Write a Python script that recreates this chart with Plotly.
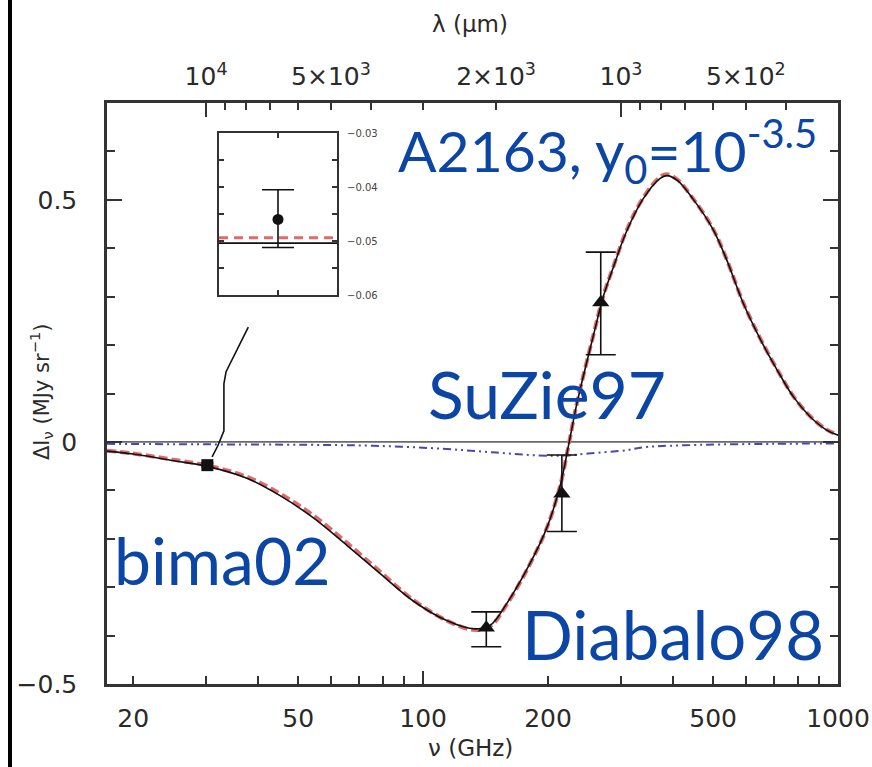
import numpy as np
import plotly.graph_objects as go

C_UM_GHZ = 299792.458  # lambda[um] * nu[GHz]

# ---------------- data ----------------
freq_ghz = [17.3, 20, 26, 30, 37.6, 45, 54, 65.6, 78.8, 94.5, 114, 132, 145, 159, 181, 199,
            214, 225, 235, 257, 272, 288, 309, 339, 372, 387, 410, 447, 499, 538, 590, 650,
            713, 781, 857, 937, 1000]
sz_model = [-0.019, -0.025, -0.041, -0.050, -0.075, -0.110, -0.155, -0.214, -0.272, -0.328,
            -0.369, -0.386, -0.379, -0.334, -0.251, -0.176, -0.090, 0.0, 0.081, 0.218, 0.301,
            0.363, 0.434, 0.502, 0.544, 0.550, 0.540, 0.502, 0.440, 0.378, 0.288, 0.212,
            0.149, 0.093, 0.052, 0.025, 0.014]
sz_model_alt = [-0.018, -0.024, -0.039, -0.048, -0.072, -0.106, -0.150, -0.209, -0.268, -0.326,
                -0.369, -0.388, -0.381, -0.336, -0.252, -0.176, -0.090, 0.0, 0.082, 0.219, 0.302,
                0.364, 0.436, 0.504, 0.547, 0.553, 0.542, 0.503, 0.441, 0.379, 0.289, 0.213,
                0.150, 0.094, 0.053, 0.026, 0.015]
ksz_freq = [17.3, 30, 53, 76, 111, 150, 190, 220, 250, 310, 340, 470, 700, 1000]
ksz_vals = [-0.004, -0.005, -0.006, -0.008, -0.014, -0.022, -0.028, -0.028, -0.024, -0.017,
            -0.011, -0.006, -0.004, -0.003]

bima_f = [30.2]
bima_v = [-0.048]
bima_err = [0.004]

tri_f = [142, 216, 268]
tri_v = [-0.384, -0.107, 0.288]
tri_err_up = [0.033, 0.080, 0.104]
tri_err_dn = [0.039, 0.078, 0.108]

inset_pt_v = [-0.046]
inset_err_up = [0.0055]
inset_err_dn = [0.0052]
inset_model = -0.0504
inset_model_alt = -0.0494

connector_f = [37.9, 33.5, 33.1, 33.1, 32.0, 31.0]
connector_v = [0.237, 0.145, 0.120, 0.023, -0.008, -0.031]

x_ticks = [20, 50, 100, 200, 500, 1000]
x_minor = [30, 40, 60, 70, 80, 90, 300, 400, 600, 700, 800, 900]
lam_ticks = [1e4, 5e3, 2e3, 1e3, 5e2]
lam_text = ["10<sup>4</sup>", "5×10<sup>3</sup>", "2×10<sup>3</sup>", "10<sup>3</sup>", "5×10<sup>2</sup>"]
lam_major = [1e4, 1e3]
lam_minor = [9000, 8000, 7000, 6000, 4000, 3000, 900, 800, 700, 600, 400, 300]
y_ticks = [-0.5, 0, 0.5]
y_text = ["−0.5", "0", "0.5"]
y_minor = [-0.4, -0.3, -0.2, -0.1, 0.1, 0.2, 0.3, 0.4, 0.6]
inset_ticks = [-0.06, -0.05, -0.04, -0.03]
inset_text = ["−0.06", "−0.05", "−0.04", "−0.03"]

# ---------------- layout geometry ----------------
W, H = 872, 767
L, R, T, B = 107, 838, 103, 684


def px(xp):
    return (xp - L) / (R - L)


def py(yp):
    return (B - yp) / (B - T)


XR = [np.log10(17.3), 3]
TICKC = "#333333"
TFONT = dict(family="DejaVu Sans", size=25, color="#2a2a2a")

fig = go.Figure()

# zero line
fig.add_shape(type="line", xref="paper", yref="y", x0=0, x1=1, y0=0, y1=0,
              line=dict(color="#6a6a6a", width=1.6), layer="below")

fig.add_trace(go.Scatter(x=ksz_freq, y=ksz_vals, mode="lines", line_shape="spline",
                         line=dict(color="#4a4aa6", width=2, dash="8px,4px,2px,4px,2px,4px"),
                         showlegend=False, hoverinfo="skip"))
fig.add_trace(go.Scatter(x=freq_ghz, y=sz_model_alt, mode="lines", line_shape="spline",
                         line=dict(color="#e06a6a", width=4, dash="9px,4px"),
                         showlegend=False, hoverinfo="skip"))
fig.add_trace(go.Scatter(x=freq_ghz, y=sz_model, mode="lines", line_shape="spline",
                         line=dict(color="#111111", width=1.6),
                         showlegend=False, hoverinfo="skip"))
fig.add_trace(go.Scatter(x=connector_f, y=connector_v, mode="lines",
                         line=dict(color="#111111", width=1.6),
                         showlegend=False, hoverinfo="skip"))
fig.add_trace(go.Scatter(x=bima_f, y=bima_v, mode="markers",
                         marker=dict(symbol="square", size=12, color="#111111"),
                         error_y=dict(type="data", array=bima_err, color="#111111", thickness=1.5, width=6),
                         showlegend=False, hoverinfo="skip"))
fig.add_trace(go.Scatter(x=tri_f, y=tri_v, mode="markers",
                         marker=dict(symbol="triangle-up", size=15, color="#111111"),
                         error_y=dict(type="data", symmetric=False, array=tri_err_up,
                                      arrayminus=tri_err_dn, color="#111111", thickness=1.6, width=15),
                         showlegend=False, hoverinfo="skip"))

# dummy traces so overlay axes render
for ax in ["x2", "x3", "x4"]:
    fig.add_trace(go.Scatter(x=[100], y=[0], xaxis=ax, yaxis="y", mode="markers",
                             marker=dict(opacity=0), showlegend=False, hoverinfo="skip"))

# inset
fig.add_trace(go.Scatter(x=[0, 2], y=[inset_model, inset_model], xaxis="x5", yaxis="y5", mode="lines",
                         line=dict(color="#111111", width=1.8), showlegend=False, hoverinfo="skip"))
fig.add_trace(go.Scatter(x=[0, 2], y=[inset_model_alt, inset_model_alt], xaxis="x5", yaxis="y5",
                         mode="lines", line=dict(color="#e06a6a", width=3, dash="9px,6px"),
                         showlegend=False, hoverinfo="skip"))
fig.add_trace(go.Scatter(x=[1], y=inset_pt_v, xaxis="x5", yaxis="y5", mode="markers",
                         marker=dict(symbol="circle", size=11, color="#111111"),
                         error_y=dict(type="data", symmetric=False, array=inset_err_up,
                                      arrayminus=inset_err_dn, color="#111111", thickness=1.6, width=16),
                         showlegend=False, hoverinfo="skip"))

lam_f = [C_UM_GHZ / l for l in lam_ticks]
lam_major_f = [C_UM_GHZ / l for l in lam_major]
lam_minor_f = [C_UM_GHZ / l for l in lam_minor]

fig.update_layout(
    width=W, height=H,
    margin=dict(l=L, r=W - R, t=T, b=H - B, autoexpand=False),
    paper_bgcolor="white", plot_bgcolor="white",
    showlegend=False,
    xaxis=dict(type="log", range=XR, tickvals=x_ticks, ticktext=[str(v) for v in x_ticks],
               ticks="inside", ticklen=8, tickwidth=2, tickcolor=TICKC,
               minor=dict(tickvals=x_minor, ticks="inside", ticklen=8, tickwidth=2, tickcolor=TICKC),
               showline=True, linecolor=TICKC, linewidth=2.5, mirror=True, automargin=False,
               showgrid=False, zeroline=False, tickfont=TFONT, ticklabelstandoff=10),
    xaxis2=dict(type="log", range=XR, overlaying="x", side="top", anchor="y",
                tickvals=lam_f, ticktext=lam_text, automargin=False,
                ticks="inside", ticklen=7, tickwidth=2, tickcolor=TICKC,
                minor=dict(tickvals=lam_minor_f, ticks="inside", ticklen=7, tickwidth=2, tickcolor=TICKC),
                showline=False, showgrid=False, zeroline=False, tickfont=TFONT, ticklabelstandoff=12),
    xaxis3=dict(type="log", range=XR, overlaying="x", side="top", anchor="y",
                tickvals=lam_major_f, showticklabels=False, automargin=False,
                ticks="inside", ticklen=14, tickwidth=2, tickcolor=TICKC,
                showline=False, showgrid=False, zeroline=False),
    xaxis4=dict(type="log", range=XR, overlaying="x", side="bottom", anchor="y",
                tickvals=[100, 1000], showticklabels=False, automargin=False,
                ticks="inside", ticklen=13, tickwidth=2, tickcolor=TICKC,
                showline=False, showgrid=False, zeroline=False),
    yaxis=dict(range=[-0.5, 0.7], tickvals=y_ticks, ticktext=y_text, automargin=False,
               ticks="inside", ticklen=15, tickwidth=2, tickcolor=TICKC,
               minor=dict(tickvals=y_minor, ticks="inside", ticklen=8, tickwidth=2, tickcolor=TICKC),
               showline=True, linecolor=TICKC, linewidth=2.5, mirror="ticks",
               showgrid=False, zeroline=False, tickfont=TFONT, ticklabelstandoff=22),
    xaxis5=dict(domain=[px(219), px(337)], anchor="y5", range=[0, 2], tickvals=[1],
                showticklabels=False, ticks="inside", ticklen=5, tickwidth=1.5, tickcolor=TICKC,
                showline=True, linecolor=TICKC, linewidth=2, mirror="ticks", automargin=False,
                showgrid=False, zeroline=False),
    yaxis5=dict(domain=[py(295), py(133)], anchor="x5", side="right", range=[-0.06, -0.03],
                tickvals=inset_ticks, ticktext=inset_text, automargin=False,
                ticks="inside", ticklen=5, tickwidth=1.5, tickcolor=TICKC,
                minor=dict(dtick=0.005, ticks="inside", ticklen=5, tickwidth=1.5, tickcolor=TICKC),
                showline=True, linecolor=TICKC, linewidth=2, mirror="ticks",
                showgrid=False, zeroline=False,
                tickfont=dict(family="DejaVu Sans", size=10, color="#444444"), ticklabelstandoff=6),
)

# left border line of the slide
fig.add_shape(type="line", xref="paper", yref="paper", x0=px(10), x1=px(10), y0=py(767), y1=py(0),
              line=dict(color="black", width=4))

# axis titles
fig.add_annotation(xref="paper", yref="paper", x=px(470), y=py(24), text="λ (μm)", showarrow=False,
                   font=dict(family="DejaVu Sans", size=23, color="#2a2a2a"), xanchor="center", yanchor="middle")
fig.add_annotation(xref="paper", yref="paper", x=px(470), y=py(748), text="ν (GHz)", showarrow=False,
                   font=dict(family="DejaVu Sans", size=23, color="#2a2a2a"), xanchor="center", yanchor="middle")
fig.add_annotation(xref="paper", yref="paper", x=px(41), y=py(392),
                   text="ΔI<sub>ν</sub> (MJy sr<sup>−1</sup>)", showarrow=False, textangle=-90,
                   font=dict(family="DejaVu Sans", size=21, color="#2a2a2a"), xanchor="center", yanchor="middle")

# big blue labels
BLUE = "#0b45a6"
labels = [
    ("A2163, y<sub>0</sub>=10<sup>-3.5</sup>", 396, 150, 57),
    ("SuZie97", 426, 393, 66),
    ("bima02", 112, 559, 66),
    ("Diabalo98", 520, 634, 67),
]
for txt, xl, yc, fs in labels:
    fig.add_annotation(xref="paper", yref="paper", x=px(xl), y=py(yc), text=txt, showarrow=False,
                       font=dict(family="Lato", size=fs, color=BLUE), xanchor="left", yanchor="middle")

fig.write_html("out.html", config={"displayModeBar": False},
               post_script="document.body.style.margin='0';document.body.style.overflow='hidden';")
